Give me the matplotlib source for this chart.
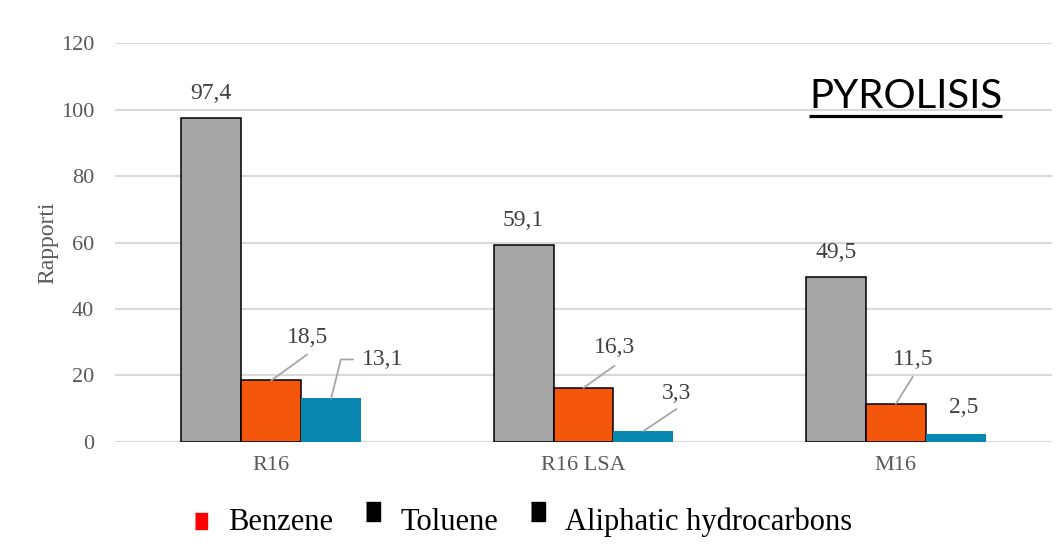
import matplotlib
matplotlib.use('Agg')
import matplotlib.pyplot as plt
from matplotlib.lines import Line2D
import numpy as np

# data
categories = ['R16', 'R16 LSA', 'M16']
series = ['Benzene', 'Toluene', 'Aliphatic hydrocarbons']
benzene = [97.4, 59.1, 49.5]
toluene = [18.5, 16.3, 11.5]
aliphatic = [13.1, 3.3, 2.5]

colors = ['#A5A5A5', '#F4560C', '#0A87B0']
edges = ['black', 'black', 'none']
legend_colors = ['#FF0000', 'black', 'black']

plt.rcParams['font.family'] = 'Liberation Serif'

fig = plt.figure(figsize=(10.59, 5.46), dpi=100)
ax = fig.add_axes([0.1086, 0.1905, 0.8848, 0.7307])

x = np.arange(len(categories))
w = 0.192
all_bars = []
for i, (vals, c, ec) in enumerate(zip([benzene, toluene, aliphatic], colors, edges)):
    bars = ax.bar(x + (i - 1) * w, vals, w, color=c, edgecolor=ec,
                  linewidth=1.1, zorder=3)
    all_bars.append(bars)

ax.set_xlim(-0.5, 2.5)
ax.set_ylim(0, 120)
ax.set_yticks(np.arange(0, 121, 20))
ax.set_xticks(x)
ax.set_xticklabels(categories)
ax.yaxis.grid(True, color='#D9D9D9', linewidth=1.5, zorder=0)
ax.set_axisbelow(True)
for s in ax.spines.values():
    s.set_visible(False)
ax.tick_params(length=0, labelsize=16, labelcolor='#595959')
ax.tick_params(axis='y', pad=15)
ax.tick_params(axis='x', pad=10)
ax.set_ylabel('Rapporti', fontsize=17, color='#595959', labelpad=2)


def fmt(v):
    return f'{v:.1f}'.replace('.', ',')


lbl_kw = dict(textcoords='offset pixels', fontsize=17, color='#404040',
              ha='center', va='center', zorder=5)
line_kw = dict(arrowstyle='-', color='#A6A6A6', lw=1.3,
               shrinkA=0, shrinkB=0)

# gray bars: labels straight above
for b in all_bars[0]:
    ax.annotate(fmt(b.get_height()), (b.get_x() + b.get_width() / 2, b.get_height()),
                xytext=(0, 25), **lbl_kw)

# orange / blue: leader lines (line end offset, text offset, connection)
leaders = [
    (all_bars[1][0], (36, 26), (36, 43), 'arc3'),
    (all_bars[2][0], (22, 39), (31, 39), 'angle,angleA=180,angleB=76,rad=0'),
    (all_bars[1][1], (31, 22), (31, 40), 'arc3'),
    (all_bars[2][1], (33, 22), (33, 38), 'arc3'),
    (all_bars[1][2], (17, 27), (17, 44), 'arc3'),
    (all_bars[2][2], None, (8, 26), None),
]
for b, lend, toff, conn in leaders:
    xy = (b.get_x() + b.get_width() / 2, b.get_height())
    if lend is not None:
        ax.annotate('', xy=xy, xytext=lend, textcoords='offset pixels',
                    arrowprops=dict(connectionstyle=conn, **line_kw), zorder=4)
    kw = dict(lbl_kw)
    if conn and conn.startswith('angle'):
        kw['ha'] = 'left'
    ax.annotate(fmt(b.get_height()), xy, xytext=toff, **kw)

# title box text, underlined
t = ax.text(0.844, 0.865, 'PYROLISIS', transform=ax.transAxes, fontsize=29,
            family='Lato', ha='center', va='center', color='black', zorder=5)

# legend
handles = [
    Line2D([], [], linestyle='none', marker=[(-0.35, -0.6), (0.35, -0.6), (0.35, 0.4), (-0.35, 0.4)],
           markersize=14, color=legend_colors[0]),
    Line2D([], [], linestyle='none', marker=[(-0.4, -0.1), (0.4, -0.1), (0.4, 1), (-0.4, 1)],
           markersize=24, color=legend_colors[1]),
    Line2D([], [], linestyle='none', marker=[(-0.4, -0.1), (0.4, -0.1), (0.4, 1), (-0.4, 1)],
           markersize=24, color=legend_colors[2]),
]
fig.legend(handles, series, loc='center', bbox_to_anchor=(0.493, 0.044), ncol=3,
           frameon=False, fontsize=22, handlelength=0.6, handletextpad=0.6,
           columnspacing=1.0, borderaxespad=0)

fig.canvas.draw()
bb = t.get_window_extent()
fig.add_artist(Line2D([bb.x0, bb.x1], [bb.y0 - 1, bb.y0 - 1], transform=None,
                      color='black', lw=2.3, solid_capstyle='butt'))

fig.savefig('out.png', dpi=100)
